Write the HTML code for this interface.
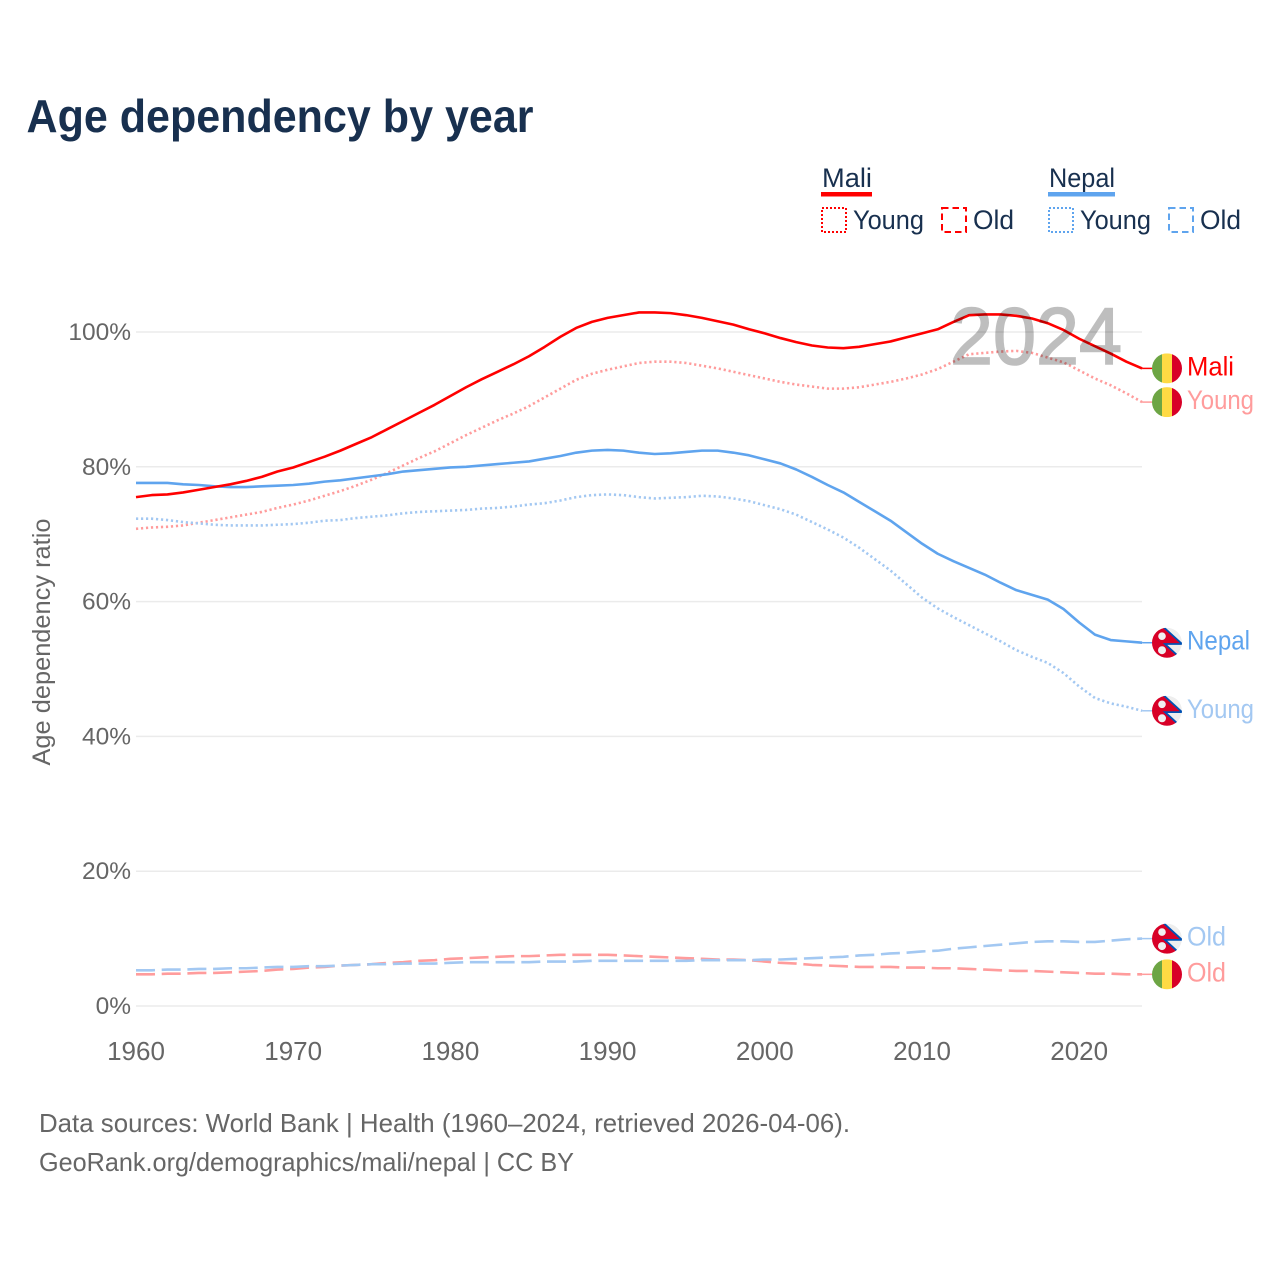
<!DOCTYPE html>
<html lang="en">
<head>
<meta charset="utf-8">
<title>Age dependency by year</title>
<style>
html,body{margin:0;padding:0;background:#fff;}
svg{display:block;font-family:"Liberation Sans",sans-serif;}
</style>
</head>
<body>
<svg id="chart" xmlns="http://www.w3.org/2000/svg" width="1280" height="1280" viewBox="0 0 1280 1280">
  <defs>
    <clipPath id="flag-clip"><circle cx="0" cy="0" r="15"></circle></clipPath>
  </defs>
  <rect x="0" y="0" width="1280" height="1280" fill="#fff"></rect>
  <text x="26.5" y="132" font-size="46" font-weight="700" fill="#18304f" textLength="507" lengthAdjust="spacingAndGlyphs">Age dependency by year</text>

  <g font-size="27" fill="#18304f">
    <text x="822" y="187" textLength="50" lengthAdjust="spacingAndGlyphs">Mali</text>
    <rect x="821" y="192" width="51" height="4.5" fill="#ff0000"></rect>
    <rect x="822" y="208" width="24" height="24" fill="none" stroke="#ff0000" stroke-width="2" stroke-dasharray="2 2"></rect>
    <text x="853" y="229" textLength="71" lengthAdjust="spacingAndGlyphs">Young</text>
    <rect x="942" y="208" width="24" height="24" fill="none" stroke="#ff0000" stroke-width="2" stroke-dasharray="6.5 4"></rect>
    <text x="973" y="229" textLength="41" lengthAdjust="spacingAndGlyphs">Old</text>
    <text x="1049" y="187" textLength="66" lengthAdjust="spacingAndGlyphs">Nepal</text>
    <rect x="1048" y="192" width="67" height="4.5" fill="#5fa4ee"></rect>
    <rect x="1049" y="208" width="24" height="24" fill="none" stroke="#5fa4ee" stroke-width="2" stroke-dasharray="2 2"></rect>
    <text x="1080" y="229" textLength="71" lengthAdjust="spacingAndGlyphs">Young</text>
    <rect x="1169" y="208" width="24" height="24" fill="none" stroke="#5fa4ee" stroke-width="2" stroke-dasharray="6.5 4"></rect>
    <text x="1200" y="229" textLength="41" lengthAdjust="spacingAndGlyphs">Old</text>
  </g>

  <g id="grid"></g>
  <g id="y-ticks"></g>
  <g id="x-ticks"></g>
  <text transform="translate(50,642) rotate(-90)" text-anchor="middle" font-size="25" fill="#666" textLength="247" lengthAdjust="spacingAndGlyphs">Age dependency ratio</text>
  <g id="series"></g>
  <text x="950" y="364" font-size="81" fill="#000" stroke="#000" stroke-width="1.6" opacity="0.25" textLength="172" lengthAdjust="spacingAndGlyphs">2024</text>
  <g id="end-labels"></g>

  <text x="39" y="1132" font-size="26" fill="#666" textLength="811" lengthAdjust="spacingAndGlyphs">Data sources: World Bank | Health (1960–2024, retrieved 2026-04-06).</text>
  <text x="39" y="1171" font-size="26" fill="#666" textLength="535" lengthAdjust="spacingAndGlyphs">GeoRank.org/demographics/mali/nepal | CC BY</text>
</svg>
<script>
var startYear = 1960;
var yTickValues = [0, 20, 40, 60, 80, 100];
var xTickValues = [1960, 1970, 1980, 1990, 2000, 2010, 2020];

var maliTotal = [75.5,75.8,75.9,76.2,76.6,77.0,77.4,77.9,78.5,79.3,79.9,80.7,81.5,82.4,83.4,84.4,85.6,86.8,88.0,89.2,90.5,91.8,93.0,94.1,95.2,96.4,97.8,99.3,100.6,101.5,102.1,102.5,102.9,102.9,102.8,102.5,102.1,101.6,101.1,100.4,99.8,99.1,98.5,98.0,97.7,97.6,97.8,98.2,98.6,99.2,99.8,100.4,101.5,102.5,102.6,102.6,102.4,102.0,101.3,100.3,99.0,97.9,96.8,95.6,94.6];
var maliYoung = [70.8,71.0,71.1,71.3,71.7,72.1,72.5,72.9,73.3,73.9,74.4,75.0,75.7,76.4,77.2,78.1,79.1,80.2,81.3,82.3,83.5,84.7,85.8,86.9,87.9,89.0,90.3,91.6,92.9,93.8,94.4,94.9,95.4,95.6,95.6,95.4,95.0,94.6,94.1,93.6,93.1,92.6,92.2,91.9,91.6,91.6,91.8,92.2,92.6,93.1,93.7,94.5,95.6,96.7,96.9,97.1,97.2,96.9,96.2,95.5,94.3,93.1,92.1,90.9,89.6];
var maliOld = [4.7,4.7,4.8,4.8,4.9,4.9,5.0,5.1,5.2,5.4,5.5,5.7,5.8,6.0,6.1,6.2,6.4,6.5,6.7,6.8,7.0,7.1,7.2,7.3,7.4,7.4,7.5,7.6,7.6,7.6,7.6,7.5,7.4,7.3,7.2,7.1,7.0,6.9,6.9,6.8,6.6,6.4,6.3,6.1,6.0,5.9,5.8,5.8,5.8,5.7,5.7,5.6,5.6,5.5,5.4,5.3,5.2,5.2,5.1,5.0,4.9,4.8,4.8,4.7,4.7];
var nepalTotal = [77.6,77.6,77.6,77.4,77.3,77.1,77.0,77.0,77.1,77.2,77.3,77.5,77.8,78.0,78.3,78.6,78.9,79.3,79.5,79.7,79.9,80.0,80.2,80.4,80.6,80.8,81.2,81.6,82.1,82.4,82.5,82.4,82.1,81.9,82.0,82.2,82.4,82.4,82.1,81.7,81.1,80.5,79.6,78.5,77.3,76.2,74.8,73.4,72.0,70.3,68.6,67.1,66.0,65.0,64.0,62.8,61.7,61.0,60.3,58.9,56.9,55.1,54.3,54.1,53.9];
var nepalYoung = [72.3,72.3,72.1,71.8,71.6,71.4,71.3,71.3,71.3,71.4,71.5,71.7,72.0,72.1,72.4,72.6,72.8,73.1,73.3,73.4,73.5,73.6,73.8,73.9,74.1,74.4,74.6,75.0,75.5,75.8,75.9,75.8,75.5,75.3,75.4,75.5,75.7,75.6,75.3,74.9,74.3,73.7,72.9,71.8,70.7,69.5,68.0,66.3,64.6,62.6,60.6,59.0,57.7,56.5,55.3,54.1,52.8,51.8,50.9,49.4,47.4,45.7,44.9,44.4,43.8];
var nepalOld = [5.3,5.3,5.4,5.4,5.5,5.5,5.6,5.6,5.7,5.8,5.8,5.9,5.9,6.0,6.1,6.2,6.2,6.3,6.3,6.3,6.4,6.5,6.5,6.5,6.5,6.5,6.6,6.6,6.6,6.7,6.7,6.7,6.7,6.7,6.7,6.7,6.8,6.8,6.8,6.8,6.9,6.9,7.0,7.1,7.2,7.3,7.5,7.6,7.8,7.9,8.1,8.2,8.5,8.7,8.9,9.1,9.3,9.5,9.6,9.6,9.5,9.5,9.7,9.9,10.0];

var NS = 'http://www.w3.org/2000/svg';
function xScale(year) { return 136 + (year - 1960) * 15.72; }
function yScale(v) { return 1006 - v * 6.74; }
function make(tag, attrs, parent) {
  var el = document.createElementNS(NS, tag);
  for (var k in attrs) { el.setAttribute(k, attrs[k]); }
  parent.appendChild(el);
  return el;
}

var grid = document.getElementById('grid');
var yTicks = document.getElementById('y-ticks');
var xTicks = document.getElementById('x-ticks');

yTickValues.forEach(function (v) {
  var line = make('line', {x1: 136, x2: 1142, y1: yScale(v), y2: yScale(v), stroke: '#ebebeb', 'stroke-width': 1.5}, grid);
  
  
  var label = make('text', {x: 131, y: yScale(v) + 8, 'text-anchor': 'end', 'font-size': 24.5, fill: '#666'}, yTicks);
  
  
  label.textContent = v + '%';
});

xTickValues.forEach(function (year) {
  var label = make('text', {x: xScale(year), y: 1060, 'text-anchor': 'middle', 'font-size': 26, fill: '#666'}, xTicks);
  
  
  label.textContent = year;
});

var seriesGroup = document.getElementById('series');
var labelGroup = document.getElementById('end-labels');

function drawSeries(values, color, dash, seriesName) {
  var pts = values.map(function (v, i) {
    return xScale(startYear + i).toFixed(2) + ',' + yScale(v).toFixed(2);
  }).join(' ');
  var attrs = {points: pts, fill: 'none', stroke: color, 'stroke-width': 2.6, 'stroke-linejoin': 'round'};
  if (dash) { attrs['stroke-dasharray'] = dash; }
  var line = make('polyline', attrs, seriesGroup);
  
  
}

function drawFlag(kind, cy) {
  var g = make('g', {transform: 'translate(1167,' + cy + ')'}, labelGroup);
  
  
  var inner = make('g', {'clip-path': 'url(#flag-clip)'}, g);
  if (kind === 'mali') {
    make('rect', {x: -15, y: -15, width: 10, height: 30, fill: '#6da544'}, inner);
    make('rect', {x: -5, y: -15, width: 10, height: 30, fill: '#ffda44'}, inner);
    make('rect', {x: 5, y: -15, width: 10, height: 30, fill: '#d80027'}, inner);
  } else {
    make('circle', {cx: 0, cy: 0, r: 15, fill: '#eeeeee'}, inner);
    make('polygon', {points: '-17,-19 -5,-17 15,1.3 -2,1.3 14,16 -17,17', fill: '#d80027', stroke: '#0052b4', 'stroke-width': 1.8}, inner);
    make('circle', {cx: -5, cy: -6.5, r: 3.8, fill: '#f0f0f0'}, inner);
    make('circle', {cx: -5, cy: 7.5, r: 4, fill: '#f0f0f0'}, inner);
  }
}

function drawEnd(values, kind, color, text, width, seriesName) {
  var last = values[values.length - 1];
  var y = yScale(last);
  var stub = make('line', {x1: xScale(2024), x2: 1152, y1: y, y2: y, stroke: color, 'stroke-width': 1.5}, labelGroup);
  
  
  drawFlag(kind, y);
  var label = make('text', {x: 1187, y: y + 7, 'font-size': 27, fill: color, textLength: width, lengthAdjust: 'spacingAndGlyphs'}, labelGroup);
  
  
  label.textContent = text;
}

var RED = '#ff0000', BLUE = '#5fa4ee', LRED = '#ff9c9c', LBLUE = '#a3c8f2';
var DOT = '2.2 2.8', DASH = '19 6.7';

drawSeries(maliOld, LRED, DASH, 'mali-old-line');
drawSeries(nepalOld, LBLUE, DASH, 'nepal-old-line');
drawSeries(maliYoung, LRED, DOT, 'mali-young-line');
drawSeries(nepalYoung, LBLUE, DOT, 'nepal-young-line');
drawSeries(nepalTotal, BLUE, null, 'nepal-total-line');
drawSeries(maliTotal, RED, null, 'mali-total-line');

drawEnd(maliTotal, 'mali', RED, 'Mali', 47, 'mali-total');
drawEnd(maliYoung, 'mali', LRED, 'Young', 67, 'mali-young');
drawEnd(nepalTotal, 'nepal', BLUE, 'Nepal', 63, 'nepal-total');
drawEnd(nepalYoung, 'nepal', LBLUE, 'Young', 67, 'nepal-young');
drawEnd(nepalOld, 'nepal', LBLUE, 'Old', 39, 'nepal-old');
drawEnd(maliOld, 'mali', LRED, 'Old', 39, 'mali-old');
</script>
</body>
</html>
